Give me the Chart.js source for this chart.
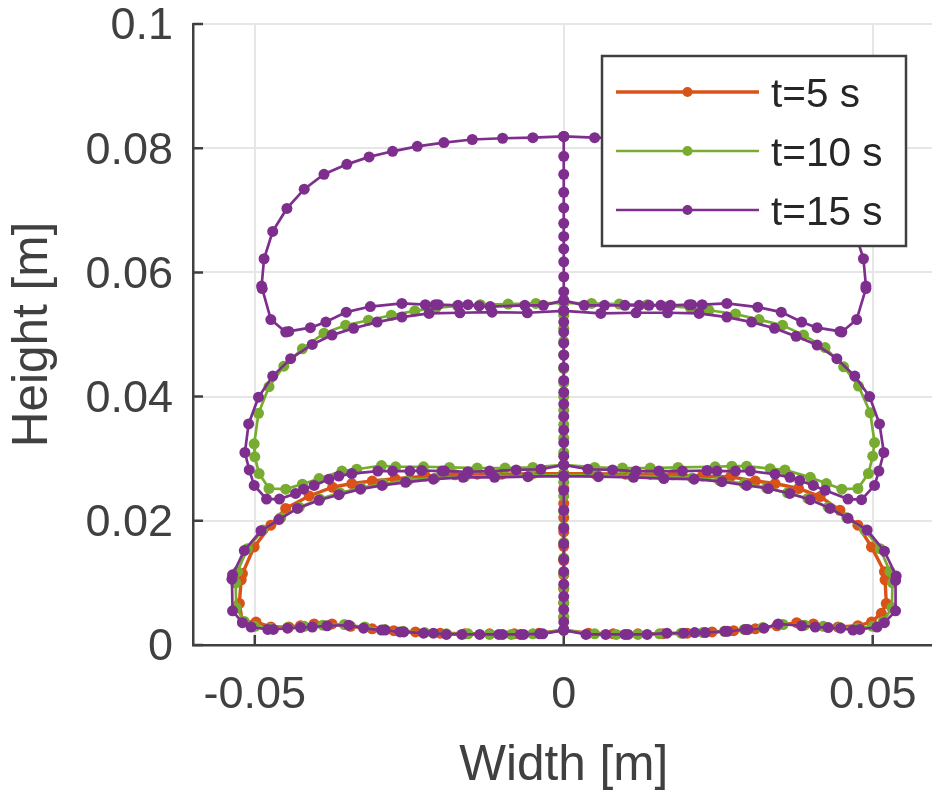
<!DOCTYPE html>
<html>
<head>
<meta charset="utf-8">
<script src="https://cdn.jsdelivr.net/npm/chart.js@4.4.1/dist/chart.umd.min.js"></script>
<style>
    html, body { margin: 0; padding: 0; background: #fff; overflow: hidden; }
    #wrap { width: 932px; height: 800px; overflow: hidden; }
</style>
</head>
<body>
<div id="wrap"><canvas id="chart" width="940" height="800"></canvas></div>
<script>
// series
const seriesNames = ['t=5 s', 't=10 s', 't=15 s'];
const seriesColors = ['#D95319', '#77AC30', '#7E2F8E'];

// axes
const xRange = [-0.06, 0.06];
const yRange = [0, 0.1];
const xTicks = [-0.05, 0, 0.05];
const xTickLabels = ['-0.05', '0', '0.05'];
const yTicks = [0, 0.02, 0.04, 0.06, 0.08, 0.1];
const yTickLabels = ['0', '0.02', '0.04', '0.06', '0.08', '0.1'];

// points on the symmetry axis (x = 0)
const axisX = 0;
const t5AxisY = [0.0024, 0.0045, 0.0068, 0.0090, 0.0113, 0.0136, 0.0159, 0.0182, 0.0205, 0.0228, 0.0252, 0.0276];
const t10AxisY = [0.0024, 0.0045, 0.0068, 0.0092, 0.0115, 0.0140, 0.0165, 0.0190, 0.0215, 0.0240, 0.0262, 0.0275,
    0.0290, 0.0310, 0.0333, 0.0355, 0.0378, 0.0400, 0.0422, 0.0445, 0.0467, 0.0489, 0.0510, 0.0531, 0.0551];
const t15AxisY = [0.0024, 0.0037, 0.0057, 0.0078, 0.0098, 0.0118, 0.0138, 0.0163, 0.0188, 0.0217, 0.0249, 0.0272,
    0.0290, 0.0304, 0.0326, 0.0346, 0.0368, 0.0388, 0.0407, 0.0426, 0.0447, 0.0467, 0.0486, 0.0504, 0.0520, 0.0538,
    0.0555, 0.0569, 0.0593, 0.0617, 0.0638, 0.0658, 0.0679, 0.0704, 0.0729, 0.0758, 0.0787, 0.0819];

// t = 5 s, lower bubble [x, y]
const t5Bottom = [[0, 0.0276], [-0.0050, 0.0276], [-0.0100, 0.0275], [-0.0140, 0.0275], [-0.0176, 0.0274], [-0.0224, 0.0272],
    [-0.0273, 0.0268], [-0.0310, 0.0264], [-0.0343, 0.0260], [-0.0374, 0.0254], [-0.0412, 0.0240], [-0.0450, 0.0220],
    [-0.0474, 0.0193], [-0.0501, 0.0158], [-0.0520, 0.0115], [-0.0522, 0.0105], [-0.0525, 0.0067], [-0.0520, 0.0037],
    [-0.0498, 0.0037], [-0.0474, 0.0029], [-0.0445, 0.0029], [-0.0426, 0.0031], [-0.0404, 0.0034], [-0.0375, 0.0034],
    [-0.0345, 0.0030], [-0.0310, 0.0026], [-0.0275, 0.0023], [-0.0240, 0.0021], [-0.0200, 0.0019], [-0.0160, 0.0018],
    [-0.0120, 0.0018], [-0.0080, 0.0018], [-0.0040, 0.0019], [0, 0.0024],
    [0.0040, 0.0019], [0.0080, 0.0018], [0.0120, 0.0018], [0.0160, 0.0018], [0.0200, 0.0019], [0.0240, 0.0021],
    [0.0275, 0.0023], [0.0310, 0.0026], [0.0345, 0.0031], [0.0377, 0.0036], [0.0404, 0.0034], [0.0444, 0.0029],
    [0.0476, 0.0031], [0.0498, 0.0037], [0.0514, 0.0051], [0.0522, 0.0067], [0.0520, 0.0105], [0.0519, 0.0118],
    [0.0498, 0.0158], [0.0476, 0.0193], [0.0447, 0.0217], [0.0415, 0.0239], [0.0380, 0.0252], [0.0342, 0.0260],
    [0.0310, 0.0264], [0.0270, 0.0271], [0.0224, 0.0272], [0.0176, 0.0274], [0.0140, 0.0275], [0.0100, 0.0275],
    [0.0050, 0.0276], [0, 0.0276]];

// t = 10 s
const t10Bottom = [[0, 0.0274], [-0.0055, 0.0273], [-0.0110, 0.0272], [-0.0160, 0.0271], [-0.0208, 0.0269], [-0.0252, 0.0265],
    [-0.0292, 0.0260], [-0.0328, 0.0253], [-0.0362, 0.0245], [-0.0395, 0.0235], [-0.0428, 0.0222], [-0.0458, 0.0205],
    [-0.0487, 0.0185], [-0.0512, 0.0155], [-0.0528, 0.0118], [-0.0531, 0.0100], [-0.0530, 0.0060], [-0.0517, 0.0038],
    [-0.0500, 0.0030], [-0.0475, 0.0027], [-0.0447, 0.0028], [-0.0420, 0.0030], [-0.0390, 0.0032], [-0.0355, 0.0033],
    [-0.0322, 0.0029], [-0.0290, 0.0025], [-0.0260, 0.0022], [-0.0225, 0.0020], [-0.0190, 0.0018], [-0.0155, 0.0018],
    [-0.0120, 0.0017], [-0.0085, 0.0017], [-0.0050, 0.0018], [0, 0.0024],
    [0.0050, 0.0018], [0.0085, 0.0017], [0.0120, 0.0017], [0.0155, 0.0018], [0.0190, 0.0019], [0.0225, 0.0020],
    [0.0260, 0.0022], [0.0292, 0.0025], [0.0322, 0.0028], [0.0355, 0.0033], [0.0390, 0.0032], [0.0420, 0.0030],
    [0.0447, 0.0028], [0.0475, 0.0027], [0.0500, 0.0030], [0.0517, 0.0038], [0.0531, 0.0060], [0.0532, 0.0100],
    [0.0528, 0.0118], [0.0512, 0.0155], [0.0487, 0.0185], [0.0458, 0.0205], [0.0428, 0.0222], [0.0395, 0.0236],
    [0.0362, 0.0245], [0.0328, 0.0253], [0.0292, 0.0260], [0.0252, 0.0265], [0.0208, 0.0269], [0.0160, 0.0271],
    [0.0110, 0.0272], [0.0055, 0.0273], [0, 0.0274]];
const t10Middle = [[0, 0.0551], [-0.0045, 0.0550], [-0.0090, 0.0549], [-0.0135, 0.0548], [-0.0172, 0.0546], [-0.0207, 0.0543],
    [-0.0241, 0.0538], [-0.0279, 0.0531], [-0.0316, 0.0523], [-0.0353, 0.0515], [-0.0388, 0.0502], [-0.0423, 0.0477],
    [-0.0453, 0.0449], [-0.0477, 0.0416], [-0.0494, 0.0373], [-0.0501, 0.0324], [-0.0500, 0.0303], [-0.0493, 0.0276],
    [-0.0477, 0.0252], [-0.0450, 0.0251], [-0.0423, 0.0259], [-0.0396, 0.0268], [-0.0359, 0.0280], [-0.0335, 0.0283],
    [-0.0295, 0.0289], [-0.0272, 0.0287], [-0.0227, 0.0287], [-0.0185, 0.0286], [-0.0140, 0.0285], [-0.0095, 0.0285],
    [-0.0050, 0.0286], [0, 0.0290],
    [0.0050, 0.0286], [0.0095, 0.0285], [0.0140, 0.0285], [0.0185, 0.0286], [0.0245, 0.0287], [0.0272, 0.0288],
    [0.0296, 0.0288], [0.0334, 0.0284], [0.0358, 0.0282], [0.0399, 0.0270], [0.0425, 0.0260], [0.0450, 0.0251],
    [0.0476, 0.0252], [0.0493, 0.0276], [0.0500, 0.0304], [0.0503, 0.0326], [0.0496, 0.0374], [0.0477, 0.0417],
    [0.0453, 0.0448], [0.0423, 0.0479], [0.0388, 0.0499], [0.0354, 0.0515], [0.0316, 0.0524], [0.0278, 0.0533],
    [0.0235, 0.0539], [0.0205, 0.0543], [0.0170, 0.0546], [0.0135, 0.0548], [0.0090, 0.0549], [0.0045, 0.0550],
    [0, 0.0551]];

// t = 15 s
const t15Bottom = [[0, 0.0272], [-0.0058, 0.0271], [-0.0112, 0.0270], [-0.0163, 0.0270], [-0.0211, 0.0267], [-0.0256, 0.0262],
    [-0.0294, 0.0257], [-0.0329, 0.0251], [-0.0364, 0.0242], [-0.0396, 0.0233], [-0.0431, 0.0220], [-0.0461, 0.0202],
    [-0.0490, 0.0184], [-0.0517, 0.0152], [-0.0536, 0.0113], [-0.0537, 0.0106], [-0.0536, 0.0055], [-0.0520, 0.0036],
    [-0.0506, 0.0029], [-0.0479, 0.0025], [-0.0470, 0.0025], [-0.0447, 0.0027], [-0.0426, 0.0028], [-0.0407, 0.0029],
    [-0.0383, 0.0031], [-0.0348, 0.0032], [-0.0324, 0.0027], [-0.0295, 0.0024], [-0.0289, 0.0024], [-0.0265, 0.0021],
    [-0.0259, 0.0021], [-0.0227, 0.0019], [-0.0211, 0.0019], [-0.0190, 0.0017], [-0.0165, 0.0017], [-0.0136, 0.0017],
    [-0.0105, 0.0017], [-0.0099, 0.0017], [-0.0070, 0.0017], [-0.0065, 0.0017], [-0.0039, 0.0018], [-0.0034, 0.0018],
    [0, 0.0024],
    [0.0036, 0.0017], [0.0068, 0.0017], [0.0099, 0.0017], [0.0104, 0.0017], [0.0135, 0.0017], [0.0167, 0.0019],
    [0.0194, 0.0019], [0.0212, 0.0020], [0.0229, 0.0020], [0.0261, 0.0022], [0.0265, 0.0022], [0.0294, 0.0025],
    [0.0298, 0.0025], [0.0324, 0.0027], [0.0347, 0.0034], [0.0385, 0.0031], [0.0407, 0.0029], [0.0428, 0.0028],
    [0.0448, 0.0027], [0.0468, 0.0024], [0.0479, 0.0025], [0.0507, 0.0029], [0.0519, 0.0036], [0.0537, 0.0055],
    [0.0537, 0.0104], [0.0538, 0.0111], [0.0519, 0.0151], [0.0491, 0.0185], [0.0460, 0.0204], [0.0431, 0.0220],
    [0.0399, 0.0234], [0.0366, 0.0244], [0.0331, 0.0252], [0.0296, 0.0257], [0.0256, 0.0263], [0.0211, 0.0267],
    [0.0162, 0.0268], [0.0113, 0.0270], [0.0056, 0.0271], [0, 0.0272]];
const t15Middle = [[0, 0.0538], [-0.0059, 0.0535], [-0.0116, 0.0536], [-0.0168, 0.0535], [-0.0218, 0.0534], [-0.0262, 0.0528],
    [-0.0302, 0.0520], [-0.0340, 0.0510], [-0.0375, 0.0499], [-0.0407, 0.0484], [-0.0442, 0.0461], [-0.0471, 0.0433],
    [-0.0494, 0.0399], [-0.0510, 0.0356], [-0.0516, 0.0310], [-0.0509, 0.0282], [-0.0501, 0.0257], [-0.0481, 0.0235],
    [-0.0460, 0.0235], [-0.0434, 0.0244], [-0.0421, 0.0251], [-0.0404, 0.0257], [-0.0380, 0.0267], [-0.0364, 0.0272],
    [-0.0343, 0.0276], [-0.0301, 0.0280], [-0.0277, 0.0280], [-0.0249, 0.0280], [-0.0230, 0.0281], [-0.0197, 0.0280],
    [-0.0193, 0.0280], [-0.0155, 0.0279], [-0.0120, 0.0280], [-0.0077, 0.0282], [-0.0037, 0.0283], [0, 0.0290],
    [0.0039, 0.0283], [0.0079, 0.0282], [0.0117, 0.0280], [0.0154, 0.0280], [0.0192, 0.0280], [0.0232, 0.0281],
    [0.0248, 0.0280], [0.0278, 0.0280], [0.0302, 0.0280], [0.0342, 0.0275], [0.0366, 0.0270], [0.0382, 0.0265],
    [0.0404, 0.0257], [0.0423, 0.0249], [0.0460, 0.0235], [0.0482, 0.0234], [0.0503, 0.0257], [0.0510, 0.0280],
    [0.0518, 0.0310], [0.0511, 0.0356], [0.0495, 0.0400], [0.0471, 0.0433], [0.0442, 0.0461], [0.0410, 0.0483],
    [0.0376, 0.0497], [0.0341, 0.0510], [0.0304, 0.0520], [0.0264, 0.0528], [0.0219, 0.0534], [0.0168, 0.0535],
    [0.0117, 0.0535], [0.0060, 0.0534], [0, 0.0538]];
const t15Top = [[0, 0.0819], [-0.0050, 0.0817], [-0.0099, 0.0816], [-0.0148, 0.0814], [-0.0194, 0.0809], [-0.0237, 0.0803],
    [-0.0277, 0.0795], [-0.0315, 0.0786], [-0.0351, 0.0774], [-0.0388, 0.0758], [-0.0420, 0.0734], [-0.0448, 0.0703],
    [-0.0471, 0.0666], [-0.0485, 0.0622], [-0.0489, 0.0578], [-0.0488, 0.0574], [-0.0474, 0.0524], [-0.0450, 0.0504],
    [-0.0445, 0.0505], [-0.0410, 0.0511], [-0.0385, 0.0520], [-0.0352, 0.0536], [-0.0313, 0.0545], [-0.0262, 0.0550],
    [-0.0224, 0.0548], [-0.0208, 0.0548], [-0.0203, 0.0548], [-0.0171, 0.0547], [-0.0155, 0.0548], [-0.0137, 0.0546],
    [-0.0119, 0.0545], [-0.0063, 0.0547], [-0.0033, 0.0547], [0, 0.0555],
    [0.0033, 0.0547], [0.0066, 0.0547], [0.0099, 0.0547], [0.0122, 0.0547], [0.0138, 0.0547], [0.0157, 0.0547],
    [0.0173, 0.0547], [0.0203, 0.0548], [0.0207, 0.0548], [0.0224, 0.0548], [0.0264, 0.0550], [0.0314, 0.0544],
    [0.0352, 0.0536], [0.0385, 0.0520], [0.0410, 0.0511], [0.0447, 0.0505], [0.0450, 0.0504], [0.0474, 0.0524],
    [0.0489, 0.0574], [0.0489, 0.0578], [0.0485, 0.0622], [0.0471, 0.0666], [0.0448, 0.0703], [0.0420, 0.0734],
    [0.0388, 0.0758], [0.0351, 0.0774], [0.0315, 0.0786], [0.0277, 0.0795], [0.0237, 0.0803], [0.0194, 0.0809],
    [0.0148, 0.0814], [0.0099, 0.0816], [0.0050, 0.0817], [0, 0.0819]];

const FONT = '"Liberation Sans", Arial, Helvetica, sans-serif';
const AXIS_COLOR = '#404040';

// loops first, then the axis segment; NaN points break the line between pieces
function buildPath(loops, axisY) {
    const pts = [];
    loops.forEach((loop) => {
        loop.forEach(([x, y]) => pts.push({ x, y }));
        pts.push({ x: NaN, y: NaN });
    });
    axisY.forEach((y) => pts.push({ x: axisX, y }));
    return pts;
}

const paths = [
    buildPath([t5Bottom], t5AxisY),
    buildPath([t10Bottom, t10Middle], t10AxisY),
    buildPath([t15Bottom, t15Middle, t15Top], t15AxisY),
];
const lineWidths = [3.4, 2.7, 2.7];

// tick marks point into the plot, like the original
const inwardTicks = {
    id: 'inwardTicks',
    beforeDatasetsDraw(chart) {
        const { ctx, chartArea, scales } = chart;
        ctx.save();
        ctx.strokeStyle = AXIS_COLOR;
        ctx.lineWidth = 2.5;
        ctx.beginPath();
        xTicks.forEach((v) => {
            const px = scales.x.getPixelForValue(v);
            ctx.moveTo(px, chartArea.bottom);
            ctx.lineTo(px, chartArea.bottom - 10);
        });
        yTicks.forEach((v) => {
            const py = scales.y.getPixelForValue(v);
            ctx.moveTo(chartArea.left, py);
            ctx.lineTo(chartArea.left + 10, py);
        });
        ctx.stroke();
        ctx.restore();
    },
};

// opaque legend box drawn on top of the curves
const boxLegend = {
    id: 'boxLegend',
    afterDatasetsDraw(chart) {
        const { ctx } = chart;
        const box = { left: 602, top: 56, right: 906, bottom: 246 };
        ctx.save();
        ctx.fillStyle = '#ffffff';
        ctx.fillRect(box.left, box.top, box.right - box.left, box.bottom - box.top);
        ctx.strokeStyle = AXIS_COLOR;
        ctx.lineWidth = 2.5;
        ctx.strokeRect(box.left, box.top, box.right - box.left, box.bottom - box.top);
        chart.data.datasets.forEach((ds, i) => {
            const rowY = 92 + i * 59;
            ctx.strokeStyle = ds.borderColor;
            ctx.lineWidth = ds.borderWidth;
            ctx.beginPath();
            ctx.moveTo(616, rowY);
            ctx.lineTo(759, rowY);
            ctx.stroke();
            ctx.fillStyle = ds.borderColor;
            ctx.beginPath();
            ctx.arc(687.5, rowY, 5, 0, Math.PI * 2);
            ctx.fill();
            ctx.fillStyle = '#262626';
            ctx.font = '40.5px ' + FONT;
            ctx.textBaseline = 'middle';
            ctx.textAlign = 'left';
            ctx.fillText(ds.label, 771, rowY + 3.5);
        });
        ctx.restore();
    },
};

const ctx = document.getElementById('chart').getContext('2d');
new Chart(ctx, {
    type: 'scatter',
    data: {
        datasets: seriesNames.map((name, i) => ({
            label: name,
            data: paths[i],
            showLine: true,
            spanGaps: false,
            borderColor: seriesColors[i],
            backgroundColor: seriesColors[i],
            borderWidth: lineWidths[i],
            pointRadius: 5.5,
            pointBorderWidth: 0,
            pointBackgroundColor: seriesColors[i],
            order: seriesNames.length - i, // later series on top
        })),
    },
    options: {
        responsive: false,
        animation: false,
        events: [],
        layout: { padding: { top: 24, right: 1, bottom: 0, left: 0 } },
        plugins: {
            legend: { display: false },
            tooltip: { enabled: false },
        },
        scales: {
            x: {
                type: 'linear',
                min: xRange[0],
                max: xRange[1],
                afterBuildTicks: (s) => { s.ticks = xTicks.map((v) => ({ value: v })); },
                afterFit: (s) => {
                    s.height = 155;
                    s.paddingLeft = 0;
                    s.paddingRight = 0;
                },
                ticks: {
                    color: AXIS_COLOR,
                    font: { family: FONT, size: 45, lineHeight: 1 },
                    padding: 28.5,
                    maxRotation: 0,
                    callback: (v) => xTickLabels[xTicks.indexOf(v)],
                },
                grid: { color: '#e6e6e6', lineWidth: 2, drawTicks: false },
                border: { display: true, color: AXIS_COLOR, width: 2.5 },
                title: {
                    display: true,
                    text: 'Width [m]',
                    color: AXIS_COLOR,
                    font: { family: FONT, size: 49.5, lineHeight: 1 },
                    padding: { top: 0, bottom: 9 },
                },
            },
            y: {
                type: 'linear',
                min: yRange[0],
                max: yRange[1],
                afterBuildTicks: (s) => { s.ticks = yTicks.map((v) => ({ value: v })); },
                afterFit: (s) => {
                    s.width = 193;
                    s.paddingTop = 0;
                    s.paddingBottom = 0;
                },
                ticks: {
                    color: AXIS_COLOR,
                    font: { family: FONT, size: 45, lineHeight: 1 },
                    padding: 20,
                    labelOffset: 3,
                    callback: (v) => yTickLabels[yTicks.indexOf(v)],
                },
                grid: { color: '#e6e6e6', lineWidth: 2, drawTicks: false },
                border: { display: true, color: AXIS_COLOR, width: 2.5 },
                title: {
                    display: true,
                    text: 'Height [m]',
                    color: AXIS_COLOR,
                    font: { family: FONT, size: 49.5, lineHeight: 1 },
                    padding: { top: 9, bottom: 0 },
                },
            },
        },
    },
    plugins: [inwardTicks, boxLegend],
});
</script>
</body>
</html>
